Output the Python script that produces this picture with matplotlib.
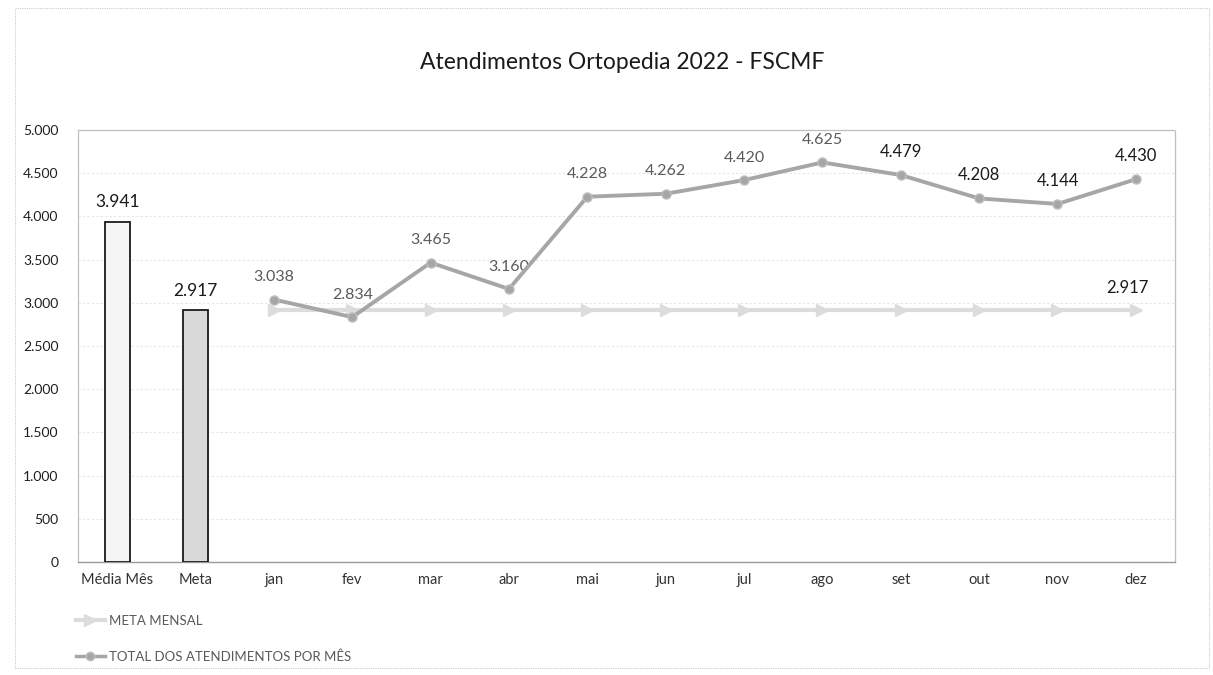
"""Atendimentos Ortopedia 2022 - FSCMF: summary bars plus monthly line."""
import matplotlib
matplotlib.use("Agg")
import matplotlib.pyplot as plt
from matplotlib.lines import Line2D
from matplotlib.patches import Rectangle
import numpy as np

plt.rcParams["font.family"] = ["Lato", "DejaVu Sans"]

# --- data -------------------------------------------------------------
BAR_LABELS = ["Média Mês", "Meta"]
BAR_VALUES = [3941, 2917]
MONTHS = ["jan", "fev", "mar", "abr", "mai", "jun",
          "jul", "ago", "set", "out", "nov", "dez"]
TOTAL_MES = [3038, 2834, 3465, 3160, 4228, 4262,
             4420, 4625, 4479, 4208, 4144, 4430]
META_MENSAL = [2917] * 12
Y_TICKS = [0, 500, 1000, 1500, 2000, 2500, 3000, 3500, 4000, 4500, 5000]

TITLE = "Atendimentos Ortopedia 2022 - FSCMF"
LEGEND_META = "META MENSAL"
LEGEND_TOTAL = "TOTAL DOS ATENDIMENTOS POR MÊS"

LINE_GREY = "#a6a6a6"
META_GREY = "#dcdcdc"


def fmt(v):
    # Brazilian thousands separator
    return f"{v:,}".replace(",", ".")


fig = plt.figure(figsize=(12.13, 6.75), dpi=100)
fig.patch.set_facecolor("white")
ax = fig.add_axes([0.0643, 0.1674, 0.9044, 0.6400])

categories = BAR_LABELS + MONTHS
x_all = np.arange(len(categories))
x_bars = x_all[:len(BAR_LABELS)]
x_months = x_all[len(BAR_LABELS):]

# bars
bar_fills = ["#f5f5f5", "#dadada"]
ax.bar(x_bars, BAR_VALUES, width=0.32, color=bar_fills,
       edgecolor="#1a1a1a", linewidth=1.3, zorder=3)
for xb, v in zip(x_bars, BAR_VALUES):
    ax.annotate(fmt(v), (xb, v), textcoords="offset points", xytext=(0, 8),
                ha="center", va="bottom", fontsize=12.5, color="#1a1a1a")

# meta mensal line with arrow markers
ax.plot(x_months, META_MENSAL, color=META_GREY, linewidth=3.0,
        marker=">", markersize=8, markerfacecolor=META_GREY,
        markeredgecolor=META_GREY, zorder=3)
ax.annotate(fmt(META_MENSAL[-1]), (x_months[-1], META_MENSAL[-1]),
            textcoords="offset points", xytext=(-6, 10),
            ha="center", va="bottom", fontsize=12, color="#1a1a1a")

# total line
ax.plot(x_months, TOTAL_MES, color=LINE_GREY, linewidth=2.8,
        marker="o", markersize=6.5, markerfacecolor=LINE_GREY,
        markeredgecolor="#bdbdbd", zorder=4)
for i, (xm, v) in enumerate(zip(x_months, TOTAL_MES)):
    dark = i >= 8
    ax.annotate(fmt(v), (xm, v), textcoords="offset points", xytext=(0, 11),
                ha="center", va="bottom",
                fontsize=12 if dark else 11.5,
                color="#1a1a1a" if dark else "#5a5a5a")

# axes cosmetics
ax.set_xlim(-0.5, len(categories) - 0.5)
ax.set_ylim(0, 5000)
ax.set_yticks(Y_TICKS)
ax.set_yticklabels([fmt(t) for t in Y_TICKS], fontsize=10, color="#1f1f1f")
ax.set_xticks(x_all)
ax.set_xticklabels(categories, fontsize=10.5, color="#333333")
ax.tick_params(axis="both", length=0, pad=8)
ax.tick_params(axis="y", pad=14)
ax.grid(axis="y", color="#e6e6e6", linewidth=0.8, linestyle=(0, (2, 2)), zorder=0)
ax.set_axisbelow(True)
for side in ["top", "right", "left"]:
    ax.spines[side].set_color("#bfbfbf")
    ax.spines[side].set_linestyle((0, (1, 1)))
    ax.spines[side].set_linewidth(0.9)
ax.spines["bottom"].set_color("#9a9a9a")
ax.spines["bottom"].set_linewidth(1.0)

fig.text(0.513, 0.908, TITLE, ha="center", va="center",
         fontsize=16.5, color="#1a1a1a")

# legend below the plot
handles = [
    Line2D([0], [0], color=META_GREY, linewidth=3, marker=">",
           markersize=8, markerfacecolor=META_GREY, markeredgecolor=META_GREY),
    Line2D([0], [0], color=LINE_GREY, linewidth=2.5, marker="o",
           markersize=6, markerfacecolor=LINE_GREY, markeredgecolor="#bdbdbd"),
]
fig.legend(handles, [LEGEND_META, LEGEND_TOTAL], loc="upper left",
           bbox_to_anchor=(0.058, 0.097), frameon=False, fontsize=9.5,
           labelcolor="#595959", handlelength=2.2, handletextpad=0.3,
           labelspacing=1.8, borderaxespad=0)

# outer frame of the scanned chart
fig.patches.append(Rectangle((0.012, 0.01), 0.985, 0.978, transform=fig.transFigure,
                             fill=False, edgecolor="#cccccc", linewidth=0.8,
                             linestyle=(0, (1, 1))))

fig.savefig("out.png", dpi=100, facecolor="white")
